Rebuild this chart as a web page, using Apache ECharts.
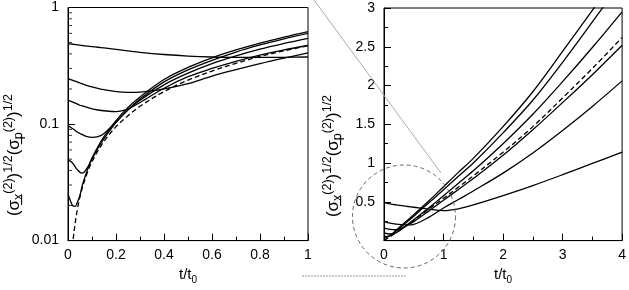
<!DOCTYPE html>
<html>
<head>
<meta charset="utf-8">
<script src="https://cdn.jsdelivr.net/npm/echarts@6/dist/echarts.min.js"></script>
<style>html,body{margin:0;padding:0;background:#fff;}#c{width:629px;height:290px;}</style>
</head>
<body>
<div id="c"></div>
<script>
// ---------- data ----------
// Left panel: t/t0 from 0 to 1, log scale
const leftT = [0, 0.01, 0.02, 0.03, 0.04, 0.05, 0.06, 0.08, 0.1, 0.125, 0.15, 0.2, 0.25, 0.3, 0.4, 0.5, 0.6, 0.7, 0.8, 0.9, 1.0];
const leftA = [0.49, 0.487, 0.484, 0.481, 0.478, 0.475, 0.472, 0.467, 0.462, 0.456, 0.45, 0.437, 0.424, 0.412, 0.395, 0.383, 0.376, 0.373, 0.373, 0.374, 0.376];
const leftB = [0.245, 0.241, 0.237, 0.233, 0.229, 0.225, 0.221, 0.214, 0.208, 0.202, 0.197, 0.19, 0.187, 0.188, 0.2, 0.222, 0.258, 0.293, 0.33, 0.368, 0.408];
const leftC = [0.16, 0.157, 0.154, 0.151, 0.148, 0.145, 0.143, 0.139, 0.135, 0.132, 0.13, 0.128, 0.135, 0.153, 0.203, 0.255, 0.3, 0.345, 0.39, 0.432, 0.472];
const leftD = [0.097, 0.094, 0.091, 0.088, 0.085, 0.083, 0.081, 0.078, 0.077, 0.078, 0.083, 0.104, 0.132, 0.16, 0.217, 0.273, 0.33, 0.385, 0.44, 0.492, 0.544];
const leftE = [0.05, 0.048, 0.046, 0.043, 0.0405, 0.0385, 0.038, 0.042, 0.05, 0.062, 0.075, 0.103, 0.133, 0.164, 0.23, 0.292, 0.352, 0.415, 0.477, 0.538, 0.599];
const leftF = [0.025, 0.022, 0.0199, 0.0197, 0.0215, 0.0245, 0.03, 0.04, 0.051, 0.064, 0.078, 0.107, 0.139, 0.171, 0.241, 0.306, 0.37, 0.432, 0.495, 0.558, 0.622];
const leftDash = [null, 0.0047, 0.0095, 0.0142, 0.019, 0.0238, 0.0285, 0.038, 0.0475, 0.059, 0.071, 0.095, 0.118, 0.142, 0.19, 0.238, 0.285, 0.332, 0.38, 0.425, 0.47];
const leftMinorTicks = [0.02, 0.03, 0.04, 0.05, 0.06, 0.07, 0.08, 0.09, 0.2, 0.3, 0.4, 0.5, 0.6, 0.7, 0.8, 0.9];

// Right panel: t/t0 from 0 to 4, linear scale
const rightT = [0, 0.1, 0.2, 0.3, 0.4, 0.5, 0.75, 1, 1.25, 1.5, 2, 2.5, 3, 3.5, 4];
const rightA = [0.49, 0.475, 0.462, 0.45, 0.44, 0.43, 0.405, 0.387, 0.41, 0.46, 0.58, 0.71, 0.85, 0.995, 1.14];
const rightB = [0.245, 0.225, 0.212, 0.205, 0.203, 0.21, 0.3, 0.42, 0.53, 0.64, 0.87, 1.13, 1.42, 1.73, 2.06];
const rightC = [0.16, 0.145, 0.14, 0.16, 0.2, 0.245, 0.38, 0.52, 0.66, 0.8, 1.1, 1.43, 1.78, 2.14, 2.52];
const rightD = [0.1, 0.085, 0.1, 0.15, 0.21, 0.27, 0.42, 0.58, 0.74, 0.9, 1.25, 1.63, 2.05, 2.49, 2.95];
const rightE = [0.05, 0.06, 0.12, 0.185, 0.25, 0.315, 0.485, 0.655, 0.83, 1.0, 1.39, 1.81, 2.3, 2.82, 3.35];
const rightF = [0.025, 0.065, 0.13, 0.2, 0.265, 0.335, 0.51, 0.695, 0.88, 1.06, 1.47, 1.92, 2.44, 2.97, 3.5];
const rightDash = [0, 0.05, 0.1, 0.155, 0.21, 0.265, 0.405, 0.545, 0.69, 0.835, 1.14, 1.47, 1.84, 2.22, 2.62];

// ---------- chart ----------
const FONT = '"Liberation Sans", Arial, sans-serif';
function pairs(t, v) { return t.map((x, i) => v[i] == null ? null : [x, v[i]]).filter(p => p); }

const chart = echarts.init(document.getElementById('c'), null, { renderer: 'canvas' });

function solid(t, v, idx) {
  return { type: 'line', xAxisIndex: idx, yAxisIndex: idx, data: pairs(t, v), symbol: 'none',
    smooth: 0.35, clip: true, silent: true,
    lineStyle: { color: '#000', width: 1.3 } };
}
function dashed(t, v, idx) {
  const s = solid(t, v, idx);
  s.lineStyle = { color: '#000', width: 1.3, type: [5, 3] };
  return s;
}

const axisCommon = {
  axisLine: { show: true, lineStyle: { color: '#000', width: 1 } },
  axisTick: { show: true, inside: true, length: 7, lineStyle: { color: '#000', width: 1 } },
  splitLine: { show: false },
  axisLabel: { color: '#000', fontSize: 14, fontFamily: FONT },
};

const nameRich = {
  n: { fontSize: 15, fontFamily: FONT, color: '#000', lineHeight: 20, verticalAlign: 'middle' },
  sb: { fontSize: 10, fontFamily: FONT, color: '#000', lineHeight: 11, verticalAlign: 'bottom' },
};

const yTitle = '{n|(σ\u0332}{sb|x}{sp|(2)}{n|)}{sp|1/2}{n|(σ\u0332}{sb|p}{sp|(2)}{n|)}{sp|1/2}';
const titleRich = {
  n: { fontSize: 17, fontFamily: FONT, fill: '#000', lineHeight: 23, verticalAlign: 'middle' },
  sb: { fontSize: 12.5, fontFamily: FONT, fill: '#000', lineHeight: 12, verticalAlign: 'bottom' },
  sp: { fontSize: 12.5, fontFamily: FONT, fill: '#000', lineHeight: 12, verticalAlign: 'top' },
};

const option = {
  animation: false,
  backgroundColor: '#fff',
  grid: [
    { left: 68, top: 7.5, width: 240, height: 240.5, show: true, borderColor: '#000', borderWidth: 1, backgroundColor: 'transparent' },
    { left: 384, top: 8, width: 240, height: 240, show: true, borderColor: '#000', borderWidth: 1, backgroundColor: 'transparent' },
  ],
  xAxis: [
    Object.assign({}, axisCommon, {
      gridIndex: 0, type: 'value', min: 0, max: 1, interval: 0.2,
      minorTick: { show: true, splitNumber: 2, length: 4, lineStyle: { color: '#000' } },
      axisLabel: Object.assign({}, axisCommon.axisLabel, { margin: 8 }),
      name: '{n|t/t}{sb|0}', nameLocation: 'middle', nameGap: 22,
      nameTextStyle: { rich: nameRich },
    }),
    Object.assign({}, axisCommon, {
      gridIndex: 1, type: 'value', min: 0, max: 4, interval: 1,
      minorTick: { show: true, splitNumber: 2, length: 4, lineStyle: { color: '#000' } },
      axisLabel: Object.assign({}, axisCommon.axisLabel, { margin: 8 }),
      name: '{n|t/t}{sb|0}', nameLocation: 'middle', nameGap: 22,
      nameTextStyle: { rich: nameRich },
    }),
  ],
  yAxis: [
    Object.assign({}, axisCommon, {
      gridIndex: 0, type: 'log', logBase: 10, min: 0.01, max: 1,
      axisLabel: Object.assign({}, axisCommon.axisLabel, { margin: 9, formatter: v => String(+v.toPrecision(3)) }),
    }),
    Object.assign({}, axisCommon, {
      gridIndex: 1, type: 'value', min: 0, max: 3, interval: 0.5,
      minorTick: { show: true, splitNumber: 2, length: 4, lineStyle: { color: '#000' } },
      axisLabel: Object.assign({}, axisCommon.axisLabel, { margin: 9, formatter: v => v === 0 ? '' : String(v) }),
    }),
  ],
  series: [
    { type: 'scatter', xAxisIndex: 0, yAxisIndex: 0, data: leftMinorTicks.map(v => [0, v]),
      symbol: 'rect', symbolSize: [4, 1], symbolOffset: [2, 0], clip: false, silent: true,
      itemStyle: { color: '#000' } },
    solid(leftT, leftA, 0), solid(leftT, leftB, 0), solid(leftT, leftC, 0),
    solid(leftT, leftD, 0), solid(leftT, leftE, 0), solid(leftT, leftF, 0),
    dashed(leftT, leftDash, 0),
    solid(rightT, rightA, 1), solid(rightT, rightB, 1), solid(rightT, rightC, 1),
    solid(rightT, rightD, 1), solid(rightT, rightE, 1), solid(rightT, rightF, 1),
    dashed(rightT, rightDash, 1),
  ],
  graphic: [
    { type: 'line', silent: true, z: 100, shape: { x1: 314, y1: 0, x2: 441, y2: 173 },
      style: { stroke: '#aaa', lineWidth: 1 } },
    { type: 'circle', silent: true, z: 100, shape: { cx: 404, cy: 216.5, r: 51.5 },
      style: { stroke: '#666', fill: null, lineWidth: 1, lineDash: [4, 3] } },
    { type: 'line', silent: true, z: 100, shape: { x1: 302, y1: 276, x2: 407, y2: 276 },
      style: { stroke: '#999', lineWidth: 1, lineDash: [2, 1] } },
    { type: 'text', silent: true, z: 100, x: 14, y: 155, rotation: Math.PI / 2,
      style: { text: yTitle, rich: titleRich, align: 'center', verticalAlign: 'middle' } },
    { type: 'text', silent: true, z: 100, x: 333, y: 156, rotation: Math.PI / 2,
      style: { text: yTitle, rich: titleRich, align: 'center', verticalAlign: 'middle' } },
  ],
};
chart.setOption(option);
</script>
</body>
</html>
